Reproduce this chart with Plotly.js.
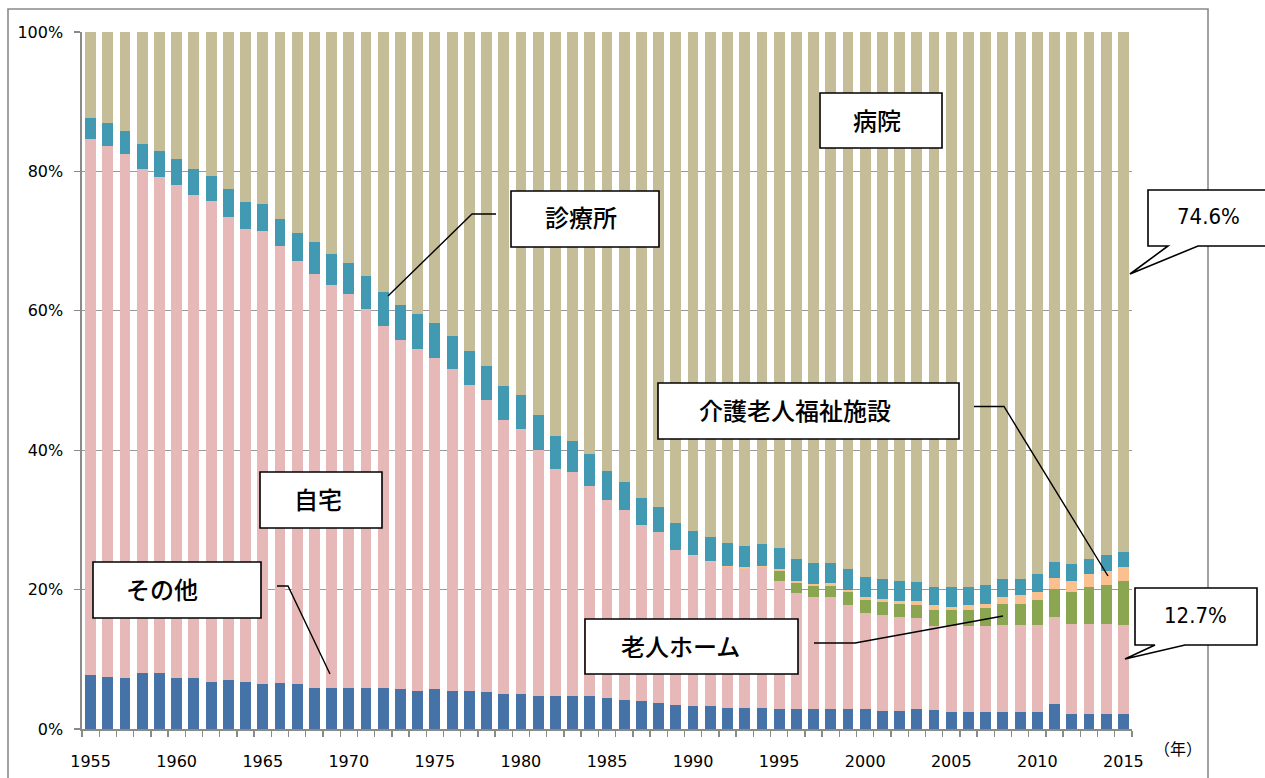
<!DOCTYPE html>
<html>
<head>
<meta charset="utf-8">
<script src="https://cdn.plot.ly/plotly-3.0.1.min.js"></script>
<style>html,body{margin:0;padding:0;background:#fff;}#chart{width:1265px;height:778px;}</style>
</head>
<body>
<div id="chart"></div>
<script>
const years = [1955,1956,1957,1958,1959,1960,1961,1962,1963,1964,1965,1966,1967,1968,1969,1970,1971,1972,1973,1974,1975,1976,1977,1978,1979,1980,1981,1982,1983,1984,1985,1986,1987,1988,1989,1990,1991,1992,1993,1994,1995,1996,1997,1998,1999,2000,2001,2002,2003,2004,2005,2006,2007,2008,2009,2010,2011,2012,2013,2014,2015];
// その他
const sonota = [7.8,7.5,7.3,8.1,8.1,7.3,7.3,6.8,7.1,6.8,6.4,6.6,6.4,5.9,5.9,5.9,5.9,5.9,5.7,5.5,5.7,5.5,5.5,5.3,5.0,5.0,4.7,4.7,4.7,4.7,4.5,4.2,4.0,3.8,3.5,3.3,3.3,3.0,3.0,3.0,2.8,2.8,2.8,2.8,2.8,2.8,2.6,2.6,2.8,2.7,2.4,2.4,2.4,2.4,2.4,2.4,3.6,2.2,2.2,2.2,2.2];
// 自宅
const jitaku = [76.8,76.2,75.2,72.3,71.1,70.8,69.3,68.9,66.4,64.9,65.0,62.7,60.7,59.4,57.8,56.5,54.4,51.9,50.1,49.0,47.6,46.2,43.8,41.9,39.4,38.0,35.4,32.6,32.2,30.2,28.4,27.2,25.3,24.4,22.2,21.5,20.7,20.3,20.0,20.2,18.5,16.7,16.1,16.1,15.0,13.8,13.7,13.5,13.1,12.1,12.4,12.4,12.4,12.5,12.5,12.5,12.5,12.8,12.8,12.8,12.7];
// 老人ホーム
const roujin = [0,0,0,0,0,0,0,0,0,0,0,0,0,0,0,0,0,0,0,0,0,0,0,0,0,0,0,0,0,0,0,0,0,0,0,0,0,0,0,0,1.4,1.5,1.6,1.6,1.8,1.9,1.9,1.8,1.9,2.3,2.3,2.3,2.5,3.1,3.1,3.6,4.0,4.7,5.4,5.6,6.3];
// 介護老人福祉施設
const kaigo = [0,0,0,0,0,0,0,0,0,0,0,0,0,0,0,0,0,0,0,0,0,0,0,0,0,0,0,0,0,0,0,0,0,0,0,0.1,0.1,0.1,0.2,0.2,0.3,0.2,0.3,0.5,0.3,0.4,0.4,0.5,0.5,0.7,0.4,0.7,0.7,0.9,1.2,1.2,1.5,1.6,1.9,2.1,2.1];
// 診療所
const shinryo = [3.1,3.3,3.3,3.5,3.7,3.7,3.8,3.6,4.0,3.9,3.9,3.8,4.0,4.5,4.4,4.5,4.7,4.9,5.0,5.1,4.9,4.7,4.9,4.9,4.8,4.9,4.9,4.7,4.4,4.5,4.1,4.0,3.9,3.6,3.9,3.5,3.5,3.3,3.0,3.1,2.9,3.2,3.0,2.8,3.0,2.9,2.9,2.8,2.8,2.6,2.9,2.6,2.6,2.6,2.3,2.5,2.3,2.4,2.1,2.2,2.1];
// 病院
const byoin = [12.3,13.0,14.2,16.1,17.1,18.2,19.6,20.7,22.5,24.4,24.7,26.9,28.9,30.2,31.9,33.1,35.0,37.3,39.2,40.4,41.8,43.6,45.8,47.9,50.8,52.1,55.0,58.0,58.7,60.6,63.0,64.6,66.8,68.2,70.4,71.6,72.4,73.3,73.8,73.5,74.1,75.6,76.2,76.2,77.1,78.2,78.5,78.8,78.9,79.6,79.6,79.6,79.4,78.5,78.5,77.8,76.1,76.3,75.6,75.1,74.6];

const seriesNames = ['その他','自宅','老人ホーム','介護老人福祉施設','診療所','病院'];
const seriesColors = ['#4572A7','#E6B9B8','#8BA650','#FAC090','#4299B2','#C4BD97'];
const seriesData = [sonota, jitaku, roujin, kaigo, shinryo, byoin];
const xTickVals = [1955,1960,1965,1970,1975,1980,1985,1990,1995,2000,2005,2010,2015];
const yTickVals = [0,20,40,60,80,100];
const yTickText = ['0%','20%','40%','60%','80%','100%'];

const traces = seriesNames.map((n,i)=>({
  type:'bar', name:n, x:years, y:seriesData[i],
  marker:{color:seriesColors[i], line:{width:0}}, hoverinfo:'skip'
}));

// pixel -> paper helpers for decorations
const L=82, T=32, W=1050, H=697;
const px=(x)=> (x-L)/W;
const py=(y)=> (T+H-y)/H;
function path(pts, close){
  let s = pts.map((p,i)=>(i?'L':'M')+px(p[0]).toFixed(5)+','+py(p[1]).toFixed(5)).join(' ');
  return close? s+' Z' : s;
}
function box(x0,y0,x1,y1){
  return {type:'rect', xref:'paper', yref:'paper', x0:px(x0), x1:px(x1), y0:py(y1), y1:py(y0),
    line:{color:'#000', width:1.6}, fillcolor:'#fff', layer:'above'};
}
function line(pts){
  return {type:'path', xref:'paper', yref:'paper', path:path(pts,false), line:{color:'#000', width:1.4}, layer:'above'};
}
const shapes = [
  {type:'rect', xref:'paper', yref:'paper', x0:px(8), x1:px(1208), y0:py(800), y1:py(9), line:{color:'#8a8a8a', width:1.6}, fillcolor:'rgba(0,0,0,0)', layer:'below'},
  box(820,93,942,148),
  box(511,191,659,247),
  box(260,472,382,528),
  box(93,562,261,618),
  box(658,383,959,439),
  box(585,619,798,674),
  line([[496,214],[472,214],[388,296]]),
  line([[277,586],[288,586],[330,674]]),
  line([[974,406.5],[1004,406.5],[1108,576]]),
  line([[814,643],[855,643],[1003,616]]),
  {type:'path', xref:'paper', yref:'paper', path:path([[1148,190],[1272,190],[1272,246],[1198,246],[1130,274],[1168,246],[1148,246]],true), line:{color:'#000', width:1.6}, fillcolor:'#fff', layer:'above'},
  {type:'path', xref:'paper', yref:'paper', path:path([[1135,588],[1257,588],[1257,645],[1185,645],[1125,659],[1155,645],[1135,645]],true), line:{color:'#000', width:1.6}, fillcolor:'#fff', layer:'above'}
];
const jp = {family:'"Noto Sans CJK JP", sans-serif', size:24, color:'#000', weight:500};
function lab(text,x,y,font){
  return {text:text, xref:'paper', yref:'paper', x:px(x), y:py(y), xanchor:'center', yanchor:'middle', showarrow:false, font:font||jp};
}
const narrow = {family:'"Liberation Sans Narrow", "DejaVu Sans Condensed", sans-serif', size:22, color:'#000'};
const annotations = [
  lab('病院',877,119),
  lab('診療所',581,216),
  lab('自宅',318,498),
  lab('その他',162,588),
  lab('介護老人福祉施設',795,409),
  lab('老人ホーム',680,645),
  lab('74.6%',1208,217,narrow),
  lab('12.7%',1195,615,narrow),
  lab('（年）',1178,748,{family:'"Noto Sans CJK JP", sans-serif', size:16, color:'#000'})
];

const tf = {family:'"DejaVu Sans", sans-serif', size:16, color:'#000'};
const layout = {
  width:1265, height:778,
  margin:{l:L, r:1265-L-W, t:T, b:778-T-H, pad:0},
  paper_bgcolor:'#fff', plot_bgcolor:'#fff',
  barmode:'stack', bargap:0.37, showlegend:false,
  font:tf,
  xaxis:{type:'linear', range:[1954.5,2015.5], tickmode:'array', tickvals:xTickVals, ticks:'',
    showline:true, linecolor:'#8a8a8a', linewidth:1.6, showgrid:false, zeroline:false,
    tickfont:tf, ticklabelstandoff:17,
    minor:{tickmode:'linear', tick0:1954.5, dtick:1, ticks:'outside', ticklen:6, tickcolor:'#8a8a8a', tickwidth:1.4, showgrid:false}},
  yaxis:{range:[0,100], tickmode:'array', tickvals:yTickVals, ticktext:yTickText, ticks:'outside', ticklen:6, tickcolor:'#8a8a8a', tickwidth:1.4,
    showline:true, linecolor:'#8a8a8a', linewidth:1.6, showgrid:true, gridcolor:'#9a9a9a', gridwidth:1.3, zeroline:false,
    tickfont:tf, ticklabelstandoff:8},
  shapes:shapes, annotations:annotations
};
Plotly.newPlot('chart', traces, layout, {staticPlot:true, displayModeBar:false});
</script>
</body>
</html>
